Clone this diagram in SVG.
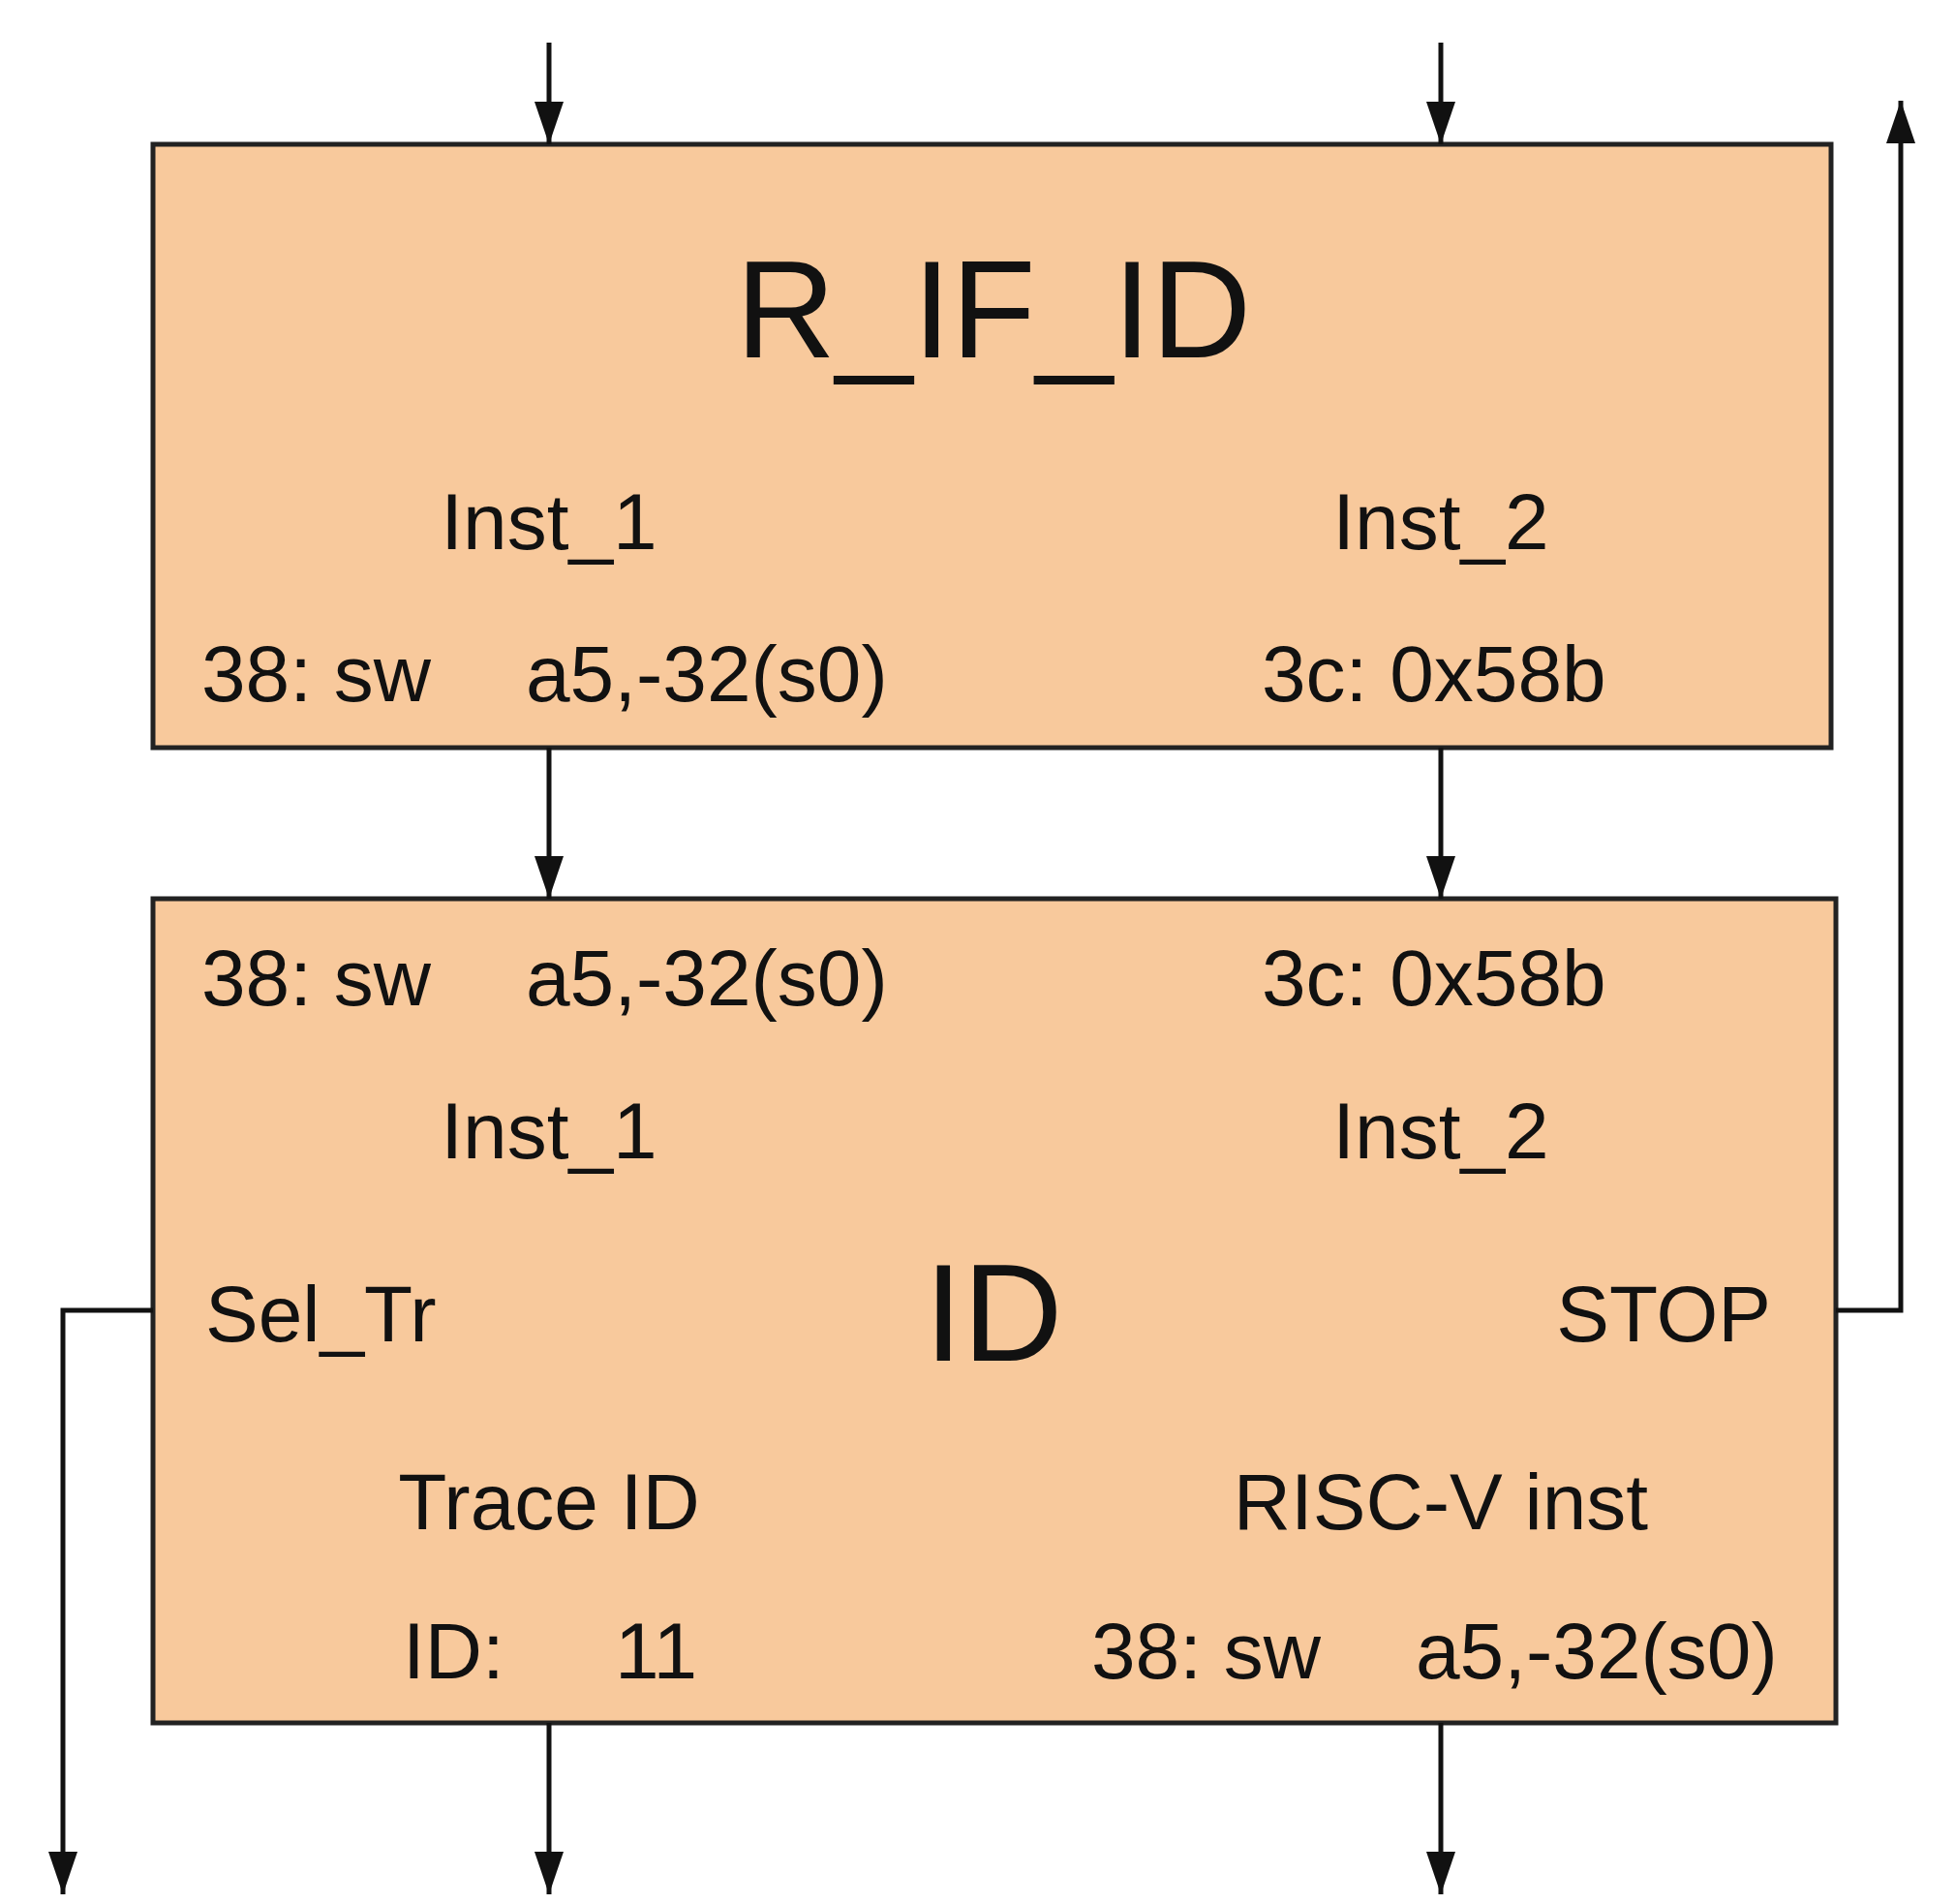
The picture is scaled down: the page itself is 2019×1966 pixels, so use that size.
<svg xmlns="http://www.w3.org/2000/svg" width="2019" height="1966" viewBox="0 0 2019 1966">
<style>
.box{fill:#F8C99C;stroke:#222;stroke-width:5}
.ln{fill:none;stroke:#111;stroke-width:5;marker-end:url(#ah)}
text{font-family:"Liberation Sans",Arial,sans-serif;fill:#111;font-size:82px}
.big{font-size:143px}
.m{text-anchor:middle}
</style>
<defs><marker id="ah" markerUnits="userSpaceOnUse" markerWidth="44" markerHeight="30" refX="44" refY="15" orient="auto" viewBox="0 0 44 30"><path d="M0,0 L44,15 L0,30 Z" fill="#111"/></marker></defs>
<rect width="2019" height="1966" fill="#fff"/>
<g id="R_IF_ID">
<rect class="box" x="158" y="149" width="1733" height="623"/>
<text class="big m" x="1026" y="369">R_IF_ID</text>
<text class="m" x="567" y="567">Inst_1</text>
<text class="m" x="1488" y="567">Inst_2</text>
<text x="208" y="724">38: sw</text>
<text x="543" y="724">a5,-32(s0)</text>
<text x="1303" y="724">3c: 0x58b</text>
</g>
<g id="ID">
<rect class="box" x="158" y="928" width="1738" height="851"/>
<text x="208" y="1038">38: sw</text>
<text x="543" y="1038">a5,-32(s0)</text>
<text x="1303" y="1038">3c: 0x58b</text>
<text class="m" x="567" y="1196">Inst_1</text>
<text class="m" x="1488" y="1196">Inst_2</text>
<text class="big m" x="1026" y="1405">ID</text>
<text x="212" y="1385">Sel_Tr</text>
<text x="1829" y="1385" text-anchor="end">STOP</text>
<text class="m" x="567" y="1579">Trace ID</text>
<text class="m" x="1488" y="1579">RISC-V inst</text>
<text x="416" y="1733">ID:</text>
<text x="635" y="1733">11</text>
<text x="1127" y="1733">38: sw</text>
<text x="1462" y="1733">a5,-32(s0)</text>
</g>
<g id="connectors">
<path class="ln" d="M567,44 V149"/>
<path class="ln" d="M1488,44 V149"/>
<path class="ln" d="M567,772 V928"/>
<path class="ln" d="M1488,772 V928"/>
<path class="ln" d="M567,1779 V1956"/>
<path class="ln" d="M1488,1779 V1956"/>
<path class="ln" d="M158,1353 H65 V1956"/>
<path class="ln" d="M1896,1353 H1963 V104"/>
</g>
</svg>
